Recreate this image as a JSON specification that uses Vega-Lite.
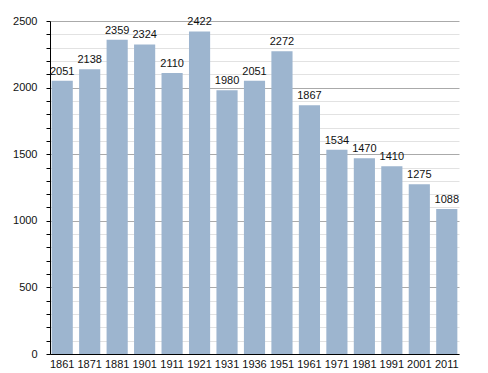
{
  "$schema": "https://vega.github.io/schema/vega-lite/v6.json",
  "width": 409,
  "height": 333,
  "autosize": "none",
  "padding": {"left": 50, "top": 21, "right": 29, "bottom": 19},
  "background": "white",
  "config": {
    "view": {"stroke": null},
    "font": "Liberation Sans",
    "axis": {"labelFont": "Liberation Sans", "labelFontSize": 11, "labelColor": "#111"}
  },
  "data": {"values": [
    {"year": "1861", "pop": 2051},
    {"year": "1871", "pop": 2138},
    {"year": "1881", "pop": 2359},
    {"year": "1901", "pop": 2324},
    {"year": "1911", "pop": 2110},
    {"year": "1921", "pop": 2422},
    {"year": "1931", "pop": 1980},
    {"year": "1936", "pop": 2051},
    {"year": "1951", "pop": 2272},
    {"year": "1961", "pop": 1867},
    {"year": "1971", "pop": 1534},
    {"year": "1981", "pop": 1470},
    {"year": "1991", "pop": 1410},
    {"year": "2001", "pop": 1275},
    {"year": "2011", "pop": 1088}
  ]},
  "encoding": {
    "x": {
      "field": "year", "type": "ordinal", "sort": null,
      "scale": {"paddingInner": 0.23, "paddingOuter": 0.06},
      "axis": {"title": null, "labelAngle": 0, "ticks": false, "domainColor": "#000", "labelPadding": 4}
    },
    "y": {
      "field": "pop", "type": "quantitative",
      "scale": {"domain": [0, 2500], "nice": false},
      "axis": {
        "title": null,
        "format": "d",
        "values": [0,100,200,300,400,500,600,700,800,900,1000,1100,1200,1300,1400,1500,1600,1700,1800,1900,2000,2100,2200,2300,2400,2500],
        "labelExpr": "datum.value % 500 === 0 ? datum.label : ''",
        "labelPadding": 9,
        "tickSize": 4,
        "tickColor": "#000",
        "domainColor": "#000",
        "gridColor": {"condition": {"test": "datum.value % 500 === 0", "value": "#aaaaaa"}, "value": "#e2e2e2"},
        "gridWidth": 1
      }
    }
  },
  "layer": [
    {"mark": {"type": "bar", "color": "#9db5cf"}},
    {
      "mark": {"type": "text", "baseline": "bottom", "dy": -4, "fontSize": 11, "color": "#111", "font": "Liberation Sans"},
      "encoding": {"text": {"field": "pop", "type": "quantitative", "format": "d"}}
    }
  ]
}
